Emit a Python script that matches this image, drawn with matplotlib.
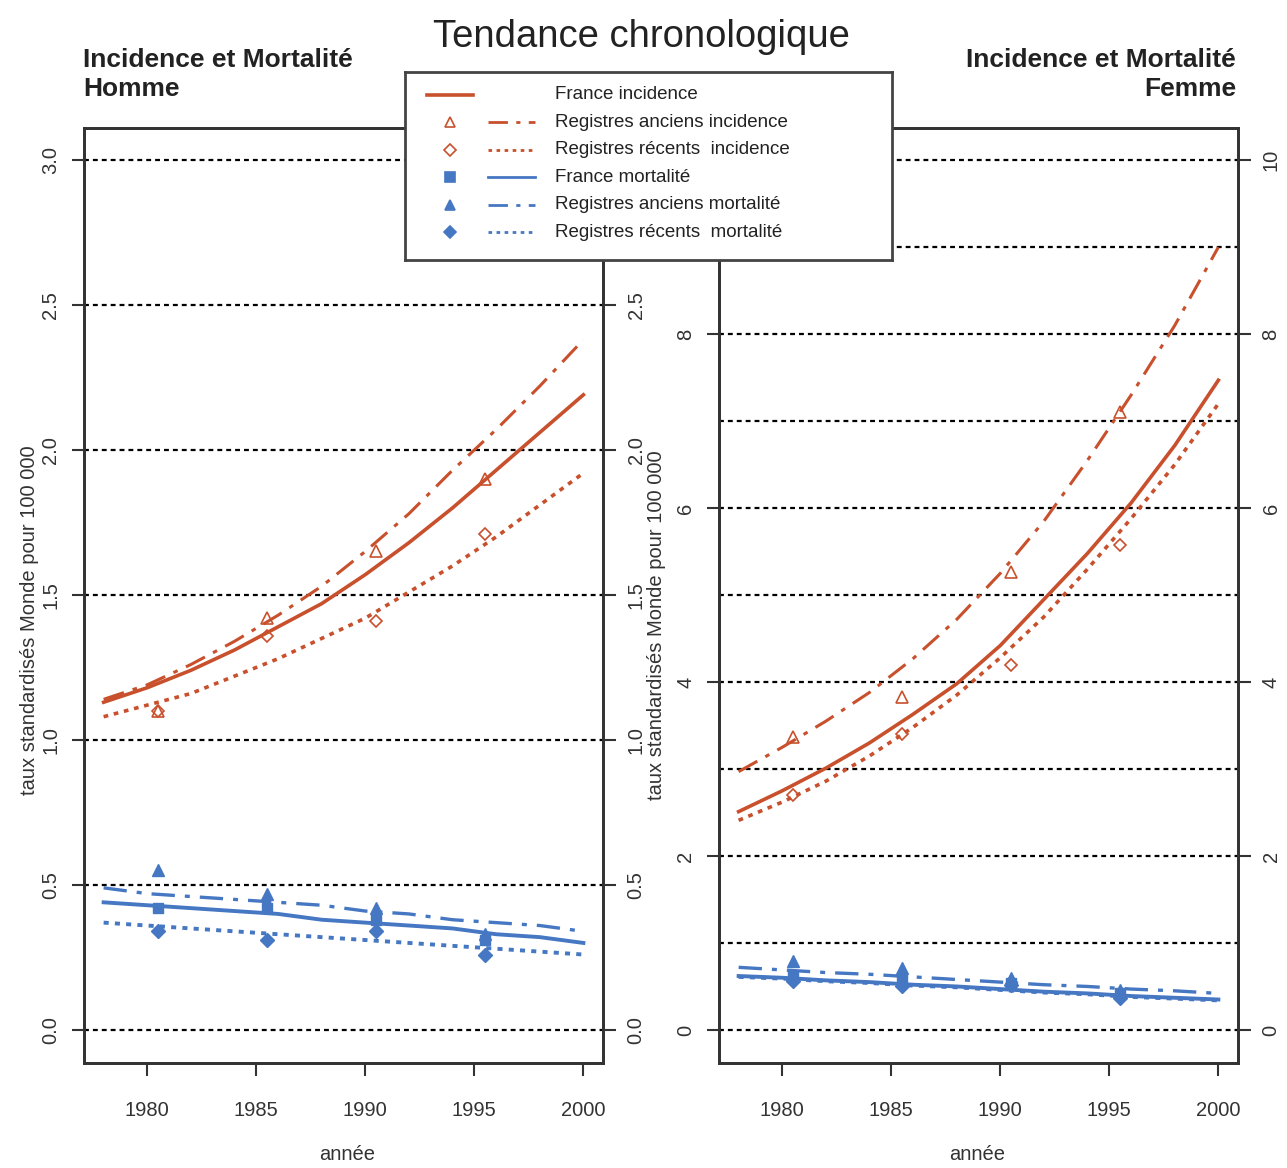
import numpy as np
import matplotlib.pyplot as plt

# Police étroite proche de l'original (Arial Narrow), sinon Liberation Sans
NARROW = ['Liberation Sans Narrow', 'Liberation Sans', 'DejaVu Sans']
plt.rcParams['font.family'] = NARROW

# Années des courbes et des points observés
years = [1978, 1980, 1982, 1984, 1986, 1988, 1990, 1992, 1994, 1996, 1998, 2000]
obs_years = [1980.5, 1985.5, 1990.5, 1995.5]

# Homme - incidence
h_fr_inc = [1.13, 1.18, 1.24, 1.31, 1.39, 1.47, 1.57, 1.68, 1.80, 1.93, 2.06, 2.19]
h_anc_inc = [1.14, 1.19, 1.26, 1.34, 1.43, 1.53, 1.65, 1.78, 1.93, 2.07, 2.22, 2.38]
h_rec_inc = [1.08, 1.12, 1.16, 1.22, 1.28, 1.35, 1.42, 1.51, 1.60, 1.70, 1.81, 1.92]
h_anc_inc_pts = [1.10, 1.42, 1.65, 1.90]
h_rec_inc_pts = [1.10, 1.36, 1.41, 1.71]
# Homme - mortalité
h_fr_mort = [0.44, 0.43, 0.42, 0.41, 0.40, 0.38, 0.37, 0.36, 0.35, 0.33, 0.32, 0.30]
h_anc_mort = [0.49, 0.47, 0.46, 0.45, 0.44, 0.43, 0.41, 0.40, 0.38, 0.37, 0.36, 0.34]
h_rec_mort = [0.37, 0.36, 0.35, 0.34, 0.33, 0.32, 0.31, 0.30, 0.29, 0.28, 0.27, 0.26]
h_fr_mort_pts = [0.42, 0.42, 0.38, 0.31]
h_anc_mort_pts = [0.55, 0.47, 0.42, 0.33]
h_rec_mort_pts = [0.34, 0.31, 0.34, 0.26]

# Femme - incidence
f_fr_inc = [2.51, 2.75, 3.01, 3.30, 3.63, 3.98, 4.42, 4.95, 5.48, 6.06, 6.72, 7.47]
f_anc_inc = [2.97, 3.25, 3.55, 3.88, 4.27, 4.72, 5.25, 5.85, 6.55, 7.30, 8.10, 9.00]
f_rec_inc = [2.41, 2.62, 2.86, 3.15, 3.48, 3.85, 4.28, 4.75, 5.30, 5.88, 6.50, 7.20]
f_anc_inc_pts = [3.37, 3.83, 5.27, 7.10]
f_rec_inc_pts = [2.70, 3.40, 4.20, 5.57]
# Femme - mortalité
f_fr_mort = [0.62, 0.60, 0.57, 0.55, 0.52, 0.50, 0.47, 0.44, 0.42, 0.39, 0.37, 0.35]
f_anc_mort = [0.72, 0.69, 0.66, 0.64, 0.61, 0.58, 0.55, 0.52, 0.50, 0.47, 0.45, 0.42]
f_rec_mort = [0.61, 0.59, 0.56, 0.54, 0.51, 0.49, 0.46, 0.43, 0.41, 0.38, 0.36, 0.34]
f_fr_mort_pts = [0.62, 0.58, 0.54, 0.42]
f_anc_mort_pts = [0.79, 0.71, 0.60, 0.46]
f_rec_mort_pts = [0.56, 0.50, 0.52, 0.37]

# Graduations
x_ticks = [1980, 1985, 1990, 1995, 2000]
h_grid = [0.0, 0.5, 1.0, 1.5, 2.0, 2.5, 3.0]
h_ticks_left = [0.0, 0.5, 1.0, 1.5, 2.0, 2.5, 3.0]
h_ticks_right = [0.0, 0.5, 1.0, 1.5, 2.0, 2.5]
f_grid = [0, 1, 2, 3, 4, 5, 6, 7, 8, 9, 10]
f_ticks_left = [0, 2, 4, 6, 8]
f_ticks_right = [0, 2, 4, 6, 8, 10]

legend_labels = ['France incidence', 'Registres anciens incidence',
                 'Registres récents  incidence', 'France mortalité',
                 'Registres anciens mortalité', 'Registres récents  mortalité']

RED = '#c8502c'
BLUE = '#4677c2'
SOLID = '-'
DASHDOT = (0, (7, 3, 1.5, 3))
DOTTED = (0, (1.3, 1.6))
GRID = (0, (2.2, 1.8))

fig = plt.figure(figsize=(12.87, 11.68), dpi=100)


def panel(ax, inc, mort, grid, yticks_l, yticks_r, ylim):
    fr_inc, anc_inc, rec_inc, anc_inc_pts, rec_inc_pts = inc
    fr_mort, anc_mort, rec_mort, fr_mort_pts, anc_mort_pts, rec_mort_pts = mort
    for g in grid:
        ax.axhline(g, color='black', lw=1.6, ls=GRID, zorder=1)
    # incidence
    ax.plot(years, fr_inc, color=RED, lw=2.6, ls=SOLID)
    ax.plot(years, anc_inc, color=RED, lw=2.2, ls=DASHDOT)
    ax.plot(years, rec_inc, color=RED, lw=2.6, ls=DOTTED)
    ax.plot(obs_years, anc_inc_pts, ls='none', marker='^', ms=8,
            mfc='none', mec=RED, mew=1.2)
    ax.plot(obs_years, rec_inc_pts, ls='none', marker='D', ms=6.5,
            mfc='none', mec=RED, mew=1.2)
    # mortalité
    ax.plot(years, fr_mort, color=BLUE, lw=2.8, ls=SOLID)
    ax.plot(years, anc_mort, color=BLUE, lw=2.4, ls=DASHDOT)
    ax.plot(years, rec_mort, color=BLUE, lw=2.8, ls=DOTTED)
    ax.plot(obs_years, fr_mort_pts, ls='none', marker='s', ms=7, color=BLUE)
    ax.plot(obs_years, anc_mort_pts, ls='none', marker='^', ms=8, color=BLUE)
    ax.plot(obs_years, rec_mort_pts, ls='none', marker='D', ms=7, color=BLUE)

    ax.set_xlim(1977.1, 2000.9)
    ax.set_ylim(*ylim)
    ax.set_xticks(x_ticks)
    ax.set_yticks(yticks_l)
    ax.tick_params(axis='both', direction='out', length=9, width=1.5,
                   labelsize=14.5, color='#333333', labelcolor='#333333')
    ax.tick_params(axis='x', pad=18)
    ax.tick_params(axis='y', labelrotation=90, pad=8)
    for lab in ax.get_yticklabels():
        lab.set_va('center')
    # axe de droite
    ax2 = ax.twinx()
    ax2.set_ylim(*ylim)
    ax2.set_yticks(yticks_r)
    ax2.tick_params(axis='y', direction='out', length=9, width=1.5,
                    labelsize=14.5, color='#333333', labelcolor='#333333',
                    labelrotation=90, pad=8)
    for lab in ax2.get_yticklabels():
        lab.set_va('center')
    for a in (ax, ax2):
        for sp in a.spines.values():
            sp.set_linewidth(2)
            sp.set_color('#333333')
    return ax2


ax_h = fig.add_axes([84 / 1287, 1 - 1063 / 1168, 519 / 1287, 935 / 1168])
ax_f = fig.add_axes([719 / 1287, 1 - 1063 / 1168, 519 / 1287, 935 / 1168])

panel(ax_h,
      (h_fr_inc, h_anc_inc, h_rec_inc, h_anc_inc_pts, h_rec_inc_pts),
      (h_fr_mort, h_anc_mort, h_rec_mort, h_fr_mort_pts, h_anc_mort_pts, h_rec_mort_pts),
      h_grid, h_ticks_left, h_ticks_right, (-0.114, 3.11))
panel(ax_f,
      (f_fr_inc, f_anc_inc, f_rec_inc, f_anc_inc_pts, f_rec_inc_pts),
      (f_fr_mort, f_anc_mort, f_rec_mort, f_fr_mort_pts, f_anc_mort_pts, f_rec_mort_pts),
      f_grid, f_ticks_left, f_ticks_right, (-0.38, 10.37))

# Titres
fig.text(641 / 1287, 1 - 37 / 1168, 'Tendance chronologique', ha='center', va='center',
         fontsize=27.5, family=['Liberation Sans', 'DejaVu Sans'], color='#222222')
fig.text(83 / 1287, 1 - 48 / 1168, 'Incidence et Mortalité\nHomme', ha='left', va='top',
         fontsize=19, fontweight='bold', linespacing=1.25, color='#222222')
fig.text(1236 / 1287, 1 - 48 / 1168, 'Incidence et Mortalité\nFemme', ha='right', va='top',
         fontsize=19, fontweight='bold', linespacing=1.25, color='#222222', multialignment='right')

ylab = 'taux standardisés Monde pour 100 000'
fig.text(30 / 1287, 1 - 620 / 1168, ylab, rotation=90, ha='center', va='center',
         fontsize=14.5, family=['Liberation Sans', 'DejaVu Sans'], color='#333333')
fig.text(657 / 1287, 1 - 625 / 1168, ylab, rotation=90, ha='center', va='center',
         fontsize=14.5, family=['Liberation Sans', 'DejaVu Sans'], color='#333333')
fig.text(347 / 1287, 1 - 1154 / 1168, 'année', ha='center', va='center',
         fontsize=14.5, color='#333333')
fig.text(977 / 1287, 1 - 1154 / 1168, 'année', ha='center', va='center',
         fontsize=14.5, color='#333333')

# Légende dessinée dans son propre cadre
lg = fig.add_axes([405 / 1287, 1 - 260 / 1168, 487 / 1287, 188 / 1168], zorder=10)
lg.set_xlim(0, 1)
lg.set_ylim(0, 1)
lg.set_xticks([])
lg.set_yticks([])
for sp in lg.spines.values():
    sp.set_linewidth(2)
    sp.set_color('#444444')
leg_colors = [RED, RED, RED, BLUE, BLUE, BLUE]
leg_styles = [SOLID, DASHDOT, DOTTED, SOLID, DASHDOT, DOTTED]
leg_markers = [None, '^', 'D', 's', '^', 'D']
leg_filled = [False, False, False, True, True, True]
row_y = 0.878 - 0.146 * np.arange(len(legend_labels))
for i, lab in enumerate(legend_labels):
    y = row_y[i]
    if leg_markers[i] is None:
        lg.plot([0.045, 0.140], [y, y], color=leg_colors[i], lw=2.6, ls=leg_styles[i])
    else:
        lg.plot([0.170, 0.267], [y, y], color=leg_colors[i], lw=2.0, ls=leg_styles[i])
        lg.plot([0.092], [y], marker=leg_markers[i], ls='none',
                ms=7 if leg_markers[i] != 'D' else 6,
                mfc=leg_colors[i] if leg_filled[i] else 'none',
                mec=leg_colors[i], mew=1.2)
    lg.text(0.308, y, lab, ha='left', va='center', fontsize=13.5, color='#222222')

plt.savefig('out.png', dpi=100)
